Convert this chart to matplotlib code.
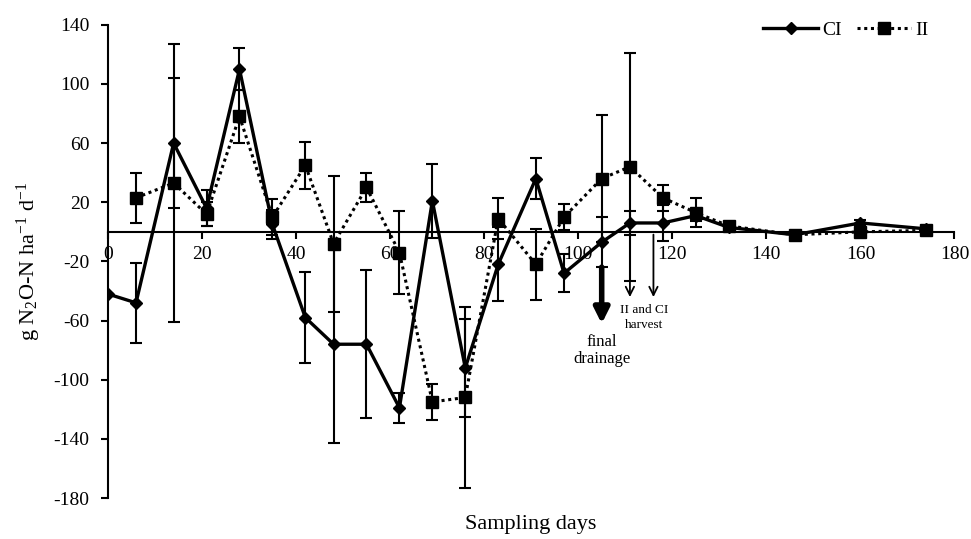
import matplotlib
matplotlib.use("Agg")
import matplotlib.pyplot as plt
from matplotlib.lines import Line2D

plt.rcParams['font.family'] = ['Liberation Serif', 'DejaVu Serif']
plt.rcParams['axes.unicode_minus'] = False
plt.rcParams['mathtext.fontset'] = 'custom'
plt.rcParams['mathtext.rm'] = 'Liberation Serif'
plt.rcParams['mathtext.it'] = 'Liberation Serif:italic'

# Sampling days and daily N2O-N flux (g N2O-N ha-1 d-1)
days_ci = [0, 6, 14, 21, 28, 35, 42, 48, 55, 62, 69, 76, 83, 91, 97, 105, 111, 118, 125, 132, 146, 160, 174]
flux_ci = [-42, -48, 60, 16, 110, 5, -58, -76, -76, -119, 21, -92, -22, 36, -28, -7, 6, 6, 11, 3, -2, 6, 2]
err_ci = [0, 27, 44, 12, 14, 10, 31, 67, 50, 10, 25, 33, 25, 14, 13, 17, 8, 12, 4, 2, 2, 2, 2]

days_ii = [6, 14, 21, 28, 35, 42, 48, 55, 62, 69, 76, 83, 91, 97, 105, 111, 118, 125, 132, 146, 160, 174]
flux_ii = [23, 33, 12, 78, 10, 45, -8, 30, -14, -115, -112, 9, -22, 10, 36, 44, 23, 13, 4, -2, 0, 1]
err_ii = [17, 94, 8, 18, 12, 16, 46, 10, 28, 12, 61, 14, 24, 9, 43, 77, 9, 10, 2, 2, 2, 2]

x_ticks = list(range(0, 181, 20))
y_ticks = list(range(-180, 141, 40))

fig = plt.figure(figsize=(9.71, 5.39), dpi=100)
ax = fig.add_axes([0.111, 0.076, 0.872, 0.878])

ci_style = dict(color='black', lw=2.4, ls='-', marker='D', ms=6)
ii_style = dict(color='black', lw=2.2, ls=(0, (1, 1.2)), marker='s', ms=8)

ax.errorbar(days_ci, flux_ci, yerr=err_ci, capsize=4, elinewidth=1.5, capthick=1.5,
            zorder=3, **ci_style)
ax.errorbar(days_ii, flux_ii, yerr=err_ii, capsize=4, elinewidth=1.5, capthick=1.5,
            zorder=3, **ii_style)

ax.set_xlim(0, 180)
ax.set_ylim(-180, 140)
ax.set_xticks(x_ticks)
ax.set_yticks(y_ticks)
ax.spines['bottom'].set_position(('data', 0))
ax.spines['top'].set_visible(False)
ax.spines['right'].set_visible(False)
for s in ('left', 'bottom'):
    ax.spines[s].set_linewidth(1.5)
ax.tick_params(axis='both', direction='out', length=5, width=1.5, labelsize=14)
ax.tick_params(axis='x', pad=5)
ax.tick_params(axis='y', pad=8)

ax.set_ylabel('g N$_2$O-N ha$^{-1}$ d$^{-1}$', fontsize=16, labelpad=8)
ax.set_xlabel('Sampling days', fontsize=16)
ax.xaxis.set_label_coords(0.5, -0.035)

# Management events
ax.annotate('', xy=(105, -64), xytext=(105, -22),
            arrowprops=dict(arrowstyle='-|>,head_width=0.45,head_length=0.9', lw=4, color='black'))
ax.text(105, -69, 'final\ndrainage', ha='center', va='top', fontsize=12, linespacing=1.1)
for xd, y0 in [(111, -25), (116, 0)]:
    ax.annotate('', xy=(xd, -46), xytext=(xd, y0),
                arrowprops=dict(arrowstyle='->,head_width=0.3,head_length=0.6', lw=1.3, color='black'))
ax.text(114, -49, 'II and CI\nharvest', ha='center', va='top', fontsize=9.5, linespacing=1.3)

handles = [Line2D([], [], **ci_style), Line2D([], [], **ii_style)]
ax.legend(handles, ['CI', 'II'], loc='upper right', bbox_to_anchor=(0.99, 1.045), ncol=2,
          frameon=False, fontsize=14, handlelength=2.8, columnspacing=0.8, handletextpad=0.2)

fig.savefig('out.png', dpi=100)
